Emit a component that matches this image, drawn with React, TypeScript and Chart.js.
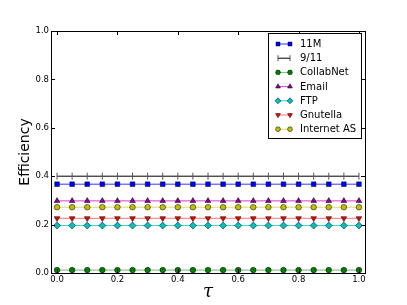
import React, { useEffect, useRef } from "react";
import { Chart, registerables } from "chart.js";
import { drawPoint } from "chart.js/helpers";

Chart.register(...registerables);

const tau = [0, 0.05, 0.1, 0.15, 0.2, 0.25, 0.3, 0.35, 0.4, 0.45, 0.5, 0.55, 0.6, 0.65, 0.7, 0.75, 0.8, 0.85, 0.9, 0.95, 1.0];
const eff11M = [0.367, 0.367, 0.367, 0.367, 0.367, 0.367, 0.367, 0.367, 0.367, 0.367, 0.367, 0.367, 0.367, 0.367, 0.367, 0.367, 0.367, 0.367, 0.367, 0.367, 0.367];
const eff911 = [0.4, 0.4, 0.4, 0.4, 0.4, 0.4, 0.4, 0.4, 0.4, 0.4, 0.4, 0.4, 0.4, 0.4, 0.4, 0.4, 0.4, 0.4, 0.4, 0.4, 0.4];
const effCollabNet = [0.012, 0.012, 0.012, 0.012, 0.012, 0.012, 0.012, 0.012, 0.012, 0.012, 0.012, 0.012, 0.012, 0.012, 0.012, 0.012, 0.012, 0.012, 0.012, 0.012, 0.012];
const effEmail = [0.298, 0.298, 0.298, 0.298, 0.298, 0.298, 0.298, 0.298, 0.298, 0.298, 0.298, 0.298, 0.298, 0.298, 0.298, 0.298, 0.298, 0.298, 0.298, 0.298, 0.298];
const effFTP = [0.196, 0.196, 0.196, 0.196, 0.196, 0.196, 0.196, 0.196, 0.196, 0.196, 0.196, 0.196, 0.196, 0.196, 0.196, 0.196, 0.196, 0.196, 0.196, 0.196, 0.196];
const effGnutella = [0.226, 0.226, 0.226, 0.226, 0.226, 0.226, 0.226, 0.226, 0.226, 0.226, 0.226, 0.226, 0.226, 0.226, 0.226, 0.226, 0.226, 0.226, 0.226, 0.226, 0.226];
const effInternetAS = [0.272, 0.272, 0.272, 0.272, 0.272, 0.272, 0.272, 0.272, 0.272, 0.272, 0.272, 0.272, 0.272, 0.272, 0.272, 0.272, 0.272, 0.272, 0.272, 0.272, 0.272];

const seriesNames = ["11M", "9/11", "CollabNet", "Email", "FTP", "Gnutella", "Internet AS"];
const xTicks = [0, 0.2, 0.4, 0.6, 0.8, 1.0];
const yTicks = [0, 0.2, 0.4, 0.6, 0.8, 1.0];

const FONT = "'DejaVu Sans', sans-serif";

function mk(label: string, values: number[], line: string, marker: string, style: any, radius: number, rotation = 0, edge = "#000000") {
  return {
    label,
    data: values.map((v, i) => ({ x: tau[i], y: v })),
    borderColor: line,
    borderWidth: 1,
    backgroundColor: marker,
    pointBackgroundColor: marker,
    pointBorderColor: edge,
    pointBorderWidth: 0.5,
    pointStyle: style,
    pointRadius: radius,
    pointRotation: rotation,
    showLine: true,
    fill: false,
    tension: 0,
  };
}

const datasets = [
  mk(seriesNames[0], eff11M, "rgba(0,0,255,0.8)", "#0000ff", "rect", 3.3),
  mk(seriesNames[1], eff911, "#000000", "#000000", "line", 3.5, 90, "#555555"),
  mk(seriesNames[2], effCollabNet, "rgba(0,128,0,0.55)", "#008000", "circle", 2.8),
  mk(seriesNames[3], effEmail, "rgba(191,0,191,0.75)", "#900090", "triangle", 3.3),
  mk(seriesNames[4], effFTP, "rgba(0,200,200,0.8)", "#00bfbf", "rectRot", 3.5),
  mk(seriesNames[5], effGnutella, "rgba(255,0,0,0.55)", "#ee0000", "triangle", 3.3, 180),
  mk(seriesNames[6], effInternetAS, "rgba(191,191,0,0.6)", "#bfbf00", "circle", 2.8),
];
(datasets[1] as any).pointBorderWidth = 1;

const framePlugin = {
  id: "frame",
  afterDatasetsDraw(chart: any) {
    const ctx = chart.ctx;
    const { left, right, top, bottom } = chart.chartArea;
    const xs = chart.scales.x;
    const ys = chart.scales.y;
    ctx.save();
    ctx.strokeStyle = "#000000";
    ctx.lineWidth = 1;
    ctx.strokeRect(Math.round(left) + 0.5, Math.round(top) + 0.5, Math.round(right - left), Math.round(bottom - top));
    const tl = 4;
    ctx.beginPath();
    for (const v of xTicks) {
      const px = Math.round(xs.getPixelForValue(v)) + 0.5;
      ctx.moveTo(px, bottom);
      ctx.lineTo(px, bottom - tl);
      ctx.moveTo(px, top);
      ctx.lineTo(px, top + tl);
    }
    for (const v of yTicks) {
      const py = Math.round(ys.getPixelForValue(v)) + 0.5;
      ctx.moveTo(left, py);
      ctx.lineTo(left + tl, py);
      ctx.moveTo(right, py);
      ctx.lineTo(right - tl, py);
    }
    ctx.stroke();

    // axis titles
    ctx.fillStyle = "#000000";
    ctx.textAlign = "center";
    ctx.textBaseline = "middle";
    ctx.save();
    ctx.translate(25, (top + bottom) / 2);
    ctx.rotate(-Math.PI / 2);
    ctx.font = `14px ${FONT}`;
    ctx.fillText("Efficiency", 0, 0);
    ctx.restore();
    ctx.font = `italic 18px 'DejaVu Serif', serif`;
    ctx.fillText("\u03c4", (left + right) / 2, 292);

    // legend
    const bx = 268.5, by = 33.5, bw = 93, bh = 105;
    ctx.fillStyle = "#ffffff";
    ctx.fillRect(bx, by, bw, bh);
    ctx.strokeStyle = "#000000";
    ctx.strokeRect(bx, by, bw, bh);
    const rowH = 14.2;
    chart.data.datasets.forEach((ds: any, i: number) => {
      const y = 44 + i * rowH;
      const x1 = 278, x2 = 290;
      ctx.strokeStyle = ds.borderColor;
      ctx.lineWidth = 1;
      ctx.beginPath();
      ctx.moveTo(x1, y);
      ctx.lineTo(x2, y);
      ctx.stroke();
      for (const x of [x1, x2]) {
        ctx.fillStyle = ds.pointBackgroundColor;
        ctx.strokeStyle = ds.pointBorderColor;
        ctx.lineWidth = ds.pointBorderWidth;
        drawPoint(ctx, { pointStyle: ds.pointStyle, radius: ds.pointRadius * 0.85, rotation: ds.pointRotation, borderWidth: ds.pointBorderWidth }, x, y);
      }
      ctx.fillStyle = "#000000";
      ctx.textAlign = "left";
      ctx.textBaseline = "middle";
      ctx.font = `10px ${FONT}`;
      ctx.fillText(ds.label, 300, y + 0.5);
    });
    ctx.restore();
  },
};

export default function App() {
  const ref = useRef<HTMLCanvasElement | null>(null);
  useEffect(() => {
    document.body.style.margin = "0";
    const chart = new Chart(ref.current as HTMLCanvasElement, {
      type: "scatter",
      data: { datasets: datasets as any },
      options: {
        animation: false,
        responsive: false,
        devicePixelRatio: 1,
        layout: { padding: { top: 31, right: 42, left: 0, bottom: 0 } },
        plugins: { legend: { display: false }, tooltip: { enabled: false } },
        scales: {
          x: {
            type: "linear",
            min: -0.02,
            max: 1.02,
            afterBuildTicks: (s: any) => { s.ticks = xTicks.map((v) => ({ value: v })); },
            afterFit: (s: any) => { s.height = 32; },
            grid: { display: false, drawTicks: false },
            border: { display: false },
            ticks: { padding: 2, color: "#000000", font: { family: FONT, size: 8.5 }, maxRotation: 0, autoSkip: false, callback: (v: any) => Number(v).toFixed(1) },
          },
          y: {
            type: "linear",
            min: 0,
            max: 1,
            afterBuildTicks: (s: any) => { s.ticks = yTicks.map((v) => ({ value: v })); },
            afterFit: (s: any) => { s.width = 51; },
            grid: { display: false, drawTicks: false },
            border: { display: false },
            ticks: { padding: 2, color: "#000000", font: { family: FONT, size: 8.5 }, autoSkip: false, callback: (v: any) => Number(v).toFixed(1) },
          },
        },
      },
      plugins: [framePlugin],
    });
    return () => chart.destroy();
  }, []);
  return (
    <div style={{ position: "absolute", left: 0, top: 0, width: 407, height: 305 }}>
      <canvas ref={ref} width={407} height={305} style={{ width: 407, height: 305 }} />
    </div>
  );
}
